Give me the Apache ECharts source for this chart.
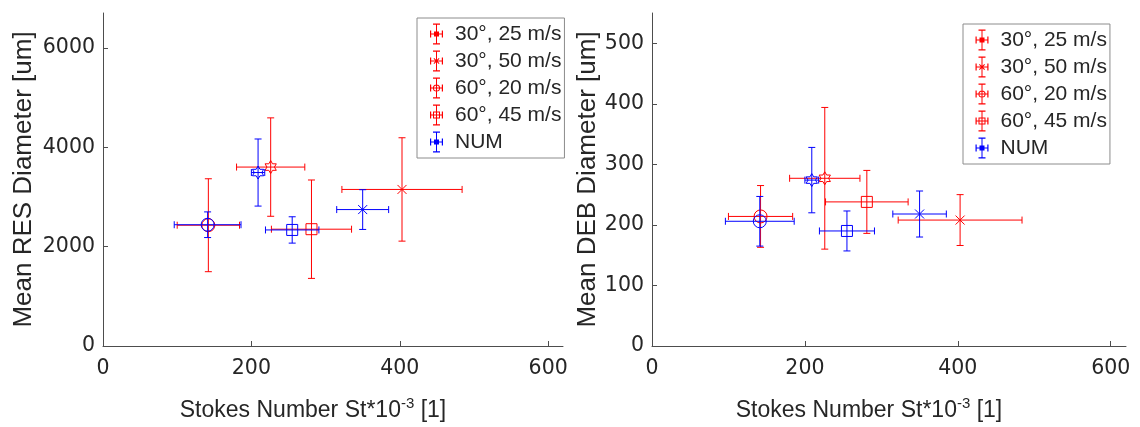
<!DOCTYPE html>
<html>
<head>
<meta charset="utf-8">
<script src="https://cdn.jsdelivr.net/npm/echarts@6/dist/echarts.min.js"></script>
<style>
  html, body { margin: 0; padding: 0; background: #ffffff; }
  #chart { width: 1140px; height: 427px; }
</style>
</head>
<body>
<div id="chart"></div>
<script>
// Experimental conditions (impact angle, speed) and the simulation series
const conditionNames = ['30°, 25 m/s', '30°, 50 m/s', '60°, 20 m/s', '60°, 45 m/s'];
const numName = 'NUM';
const conditionMarkers = ['hexagram', 'x', 'circle', 'square'];

// Stokes number St*10^-3 and its spread
const stokesExp = [226, 403, 142, 281];
const stokesExpErr = [46, 81, 42, 54];
const stokesNum = [209, 350, 141, 255];
const stokesNumErr = [9, 35, 45, 36];

// Mean RES diameter [um]
const resExp = [3600, 3150, 2430, 2350];
const resExpErr = [990, 1040, 935, 990];
const resNum = [3490, 2745, 2440, 2335];
const resNumErr = [675, 400, 258, 265];

// Mean DEB diameter [um]
const debExp = [277, 208, 214, 238];
const debExpErr = [117, 42, 51, 52];
const debNum = [274, 218, 206, 190];
const debNumErr = [54, 38, 41, 33];

// Tick marks
const xTicks = [0, 200, 400, 600];
const resTicks = [0, 2000, 4000, 6000];
const debTicks = [0, 100, 200, 300, 400, 500];

const RED = '#ff0000';
const BLUE = '#0000ff';
const TEXT = '#262626';
const AXIS = '#4d4d4d';
const FONT = '"Liberation Sans", Arial, Helvetica, sans-serif';
const TICK_FONT = '"DejaVu Sans", "Liberation Sans", sans-serif';

function markerShape(kind, cx, cy, color) {
  const st = () => ({ stroke: color, lineWidth: 1, fill: null });
  if (kind === 'circle') {
    return { type: 'circle', shape: { cx, cy, r: 6.5 }, style: st() };
  }
  if (kind === 'square') {
    return { type: 'rect', shape: { x: cx - 5.5, y: cy - 5.5, width: 11, height: 11 }, style: st() };
  }
  if (kind === 'x') {
    const d = 4.5;
    return {
      type: 'group',
      children: [
        { type: 'line', shape: { x1: cx - d, y1: cy - d, x2: cx + d, y2: cy + d }, style: st() },
        { type: 'line', shape: { x1: cx - d, y1: cy + d, x2: cx + d, y2: cy - d }, style: st() }
      ]
    };
  }
  // six-pointed star
  const pts = [];
  const ro = 6.5, ri = ro / Math.sqrt(3);
  for (let k = 0; k < 12; k++) {
    const a = -Math.PI / 2 + k * Math.PI / 6;
    const r = k % 2 === 0 ? ro : ri;
    pts.push([cx + r * Math.cos(a), cy + r * Math.sin(a)]);
  }
  return { type: 'polygon', shape: { points: pts }, style: st() };
}

function errorBarRenderer(color) {
  return function (params, api) {
    const x = api.value(0), ex = api.value(1), y = api.value(2), ey = api.value(3);
    const kind = conditionMarkers[api.value(4)];
    const c = api.coord([x, y]);
    const top = api.coord([x, y + ey]);
    const bot = api.coord([x, y - ey]);
    const lft = api.coord([x - ex, y]);
    const rgt = api.coord([x + ex, y]);
    const cap = 3.5;
    const line = (x1, y1, x2, y2) => ({
      type: 'line', shape: { x1, y1, x2, y2 }, style: { stroke: color, lineWidth: 1 }
    });
    return {
      type: 'group',
      children: [
        line(c[0], top[1], c[0], bot[1]),
        line(c[0] - cap, top[1], c[0] + cap, top[1]),
        line(c[0] - cap, bot[1], c[0] + cap, bot[1]),
        line(lft[0], c[1], rgt[0], c[1]),
        line(lft[0], c[1] - cap, lft[0], c[1] + cap),
        line(rgt[0], c[1] - cap, rgt[0], c[1] + cap),
        markerShape(kind, c[0], c[1], color)
      ]
    };
  };
}

// Legend glyphs: a small error-bar cross (13 x 21) with a marker in the middle
function rect(x, y, w, h) {
  return `M${x},${y}L${x + w},${y}L${x + w},${y + h}L${x},${y + h}Z`;
}
function rectCCW(x, y, w, h) {
  return `M${x},${y}L${x},${y + h}L${x + w},${y + h}L${x + w},${y}Z`;
}
function legendIcon(kind) {
  let p = '';
  p += rect(6, 0, 1, 21);
  p += rect(3, 0, 7, 1.2);
  p += rect(3, 19.8, 7, 1.2);
  p += rect(0, 10, 13, 1);
  p += rect(0, 7, 1.2, 7);
  p += rect(11.8, 7, 1.2, 7);
  const cx = 6.5, cy = 10.5;
  if (kind === 'circle') {
    const r = 3.6, ri = 2.6;
    p += `M${cx - r},${cy}A${r},${r} 0 1,1 ${cx + r},${cy}A${r},${r} 0 1,1 ${cx - r},${cy}Z`;
    p += `M${cx - ri},${cy}A${ri},${ri} 0 1,0 ${cx + ri},${cy}A${ri},${ri} 0 1,0 ${cx - ri},${cy}Z`;
  } else if (kind === 'square') {
    p += rect(cx - 3.5, cy - 3.5, 7, 7) + rectCCW(cx - 2.5, cy - 2.5, 5, 5);
  } else if (kind === 'x') {
    p += `M${cx - 3},${cy - 2.3}L${cx - 2.3},${cy - 3}L${cx + 3},${cy + 2.3}L${cx + 2.3},${cy + 3}Z`;
    p += `M${cx + 2.3},${cy - 3}L${cx + 3},${cy - 2.3}L${cx - 2.3},${cy + 3}L${cx - 3},${cy + 2.3}Z`;
  } else {
    p += rect(cx - 2.5, cy - 2.5, 5, 5);
  }
  return 'path://' + p;
}

const legendData = conditionNames.map((n, i) => ({ name: n, icon: legendIcon(conditionMarkers[i]) }))
  .concat([{ name: numName, icon: legendIcon('hexagram') }]);

function makeSeries(gridIdx, yExp, yExpErr, yNum, yNumErr) {
  const list = conditionNames.map((name, i) => ({
    type: 'custom',
    name,
    xAxisIndex: gridIdx,
    yAxisIndex: gridIdx,
    itemStyle: { color: RED },
    renderItem: errorBarRenderer(RED),
    encode: { x: 0, y: 2 },
    data: [[stokesExp[i], stokesExpErr[i], yExp[i], yExpErr[i], i]],
    silent: true
  }));
  list.push({
    type: 'custom',
    name: numName,
    xAxisIndex: gridIdx,
    yAxisIndex: gridIdx,
    itemStyle: { color: BLUE },
    renderItem: errorBarRenderer(BLUE),
    encode: { x: 0, y: 2 },
    data: stokesNum.map((s, i) => [s, stokesNumErr[i], yNum[i], yNumErr[i], i]),
    silent: true
  });
  return list;
}

const tickText = { fontSize: 20.5, color: TEXT, fontFamily: TICK_FONT, formatter: v => String(v) };

function xAxisCfg(gridIdx) {
  return {
    type: 'value', gridIndex: gridIdx, min: 0, max: 620,
    axisLine: { show: true, onZero: false, lineStyle: { color: AXIS, width: 1 } },
    axisTick: { show: true, inside: true, length: 5, customValues: xTicks, lineStyle: { color: AXIS } },
    axisLabel: Object.assign({ customValues: xTicks, margin: 12 }, tickText),
    splitLine: { show: false },
    name: '{a|Stokes Number St*10}{s|-3}{a| [1]}',
    nameLocation: 'middle',
    nameGap: 50,
    nameTextStyle: {
      padding: [0, 40, 0, 0],
      rich: {
        a: { fontSize: 23, color: TEXT, fontFamily: FONT, lineHeight: 26, verticalAlign: 'bottom' },
        s: { fontSize: 15, color: TEXT, fontFamily: FONT, lineHeight: 26, verticalAlign: 'top' }
      }
    }
  };
}

function yAxisCfg(gridIdx, max, ticks, name, gap) {
  return {
    type: 'value', gridIndex: gridIdx, min: 0, max,
    axisLine: { show: true, onZero: false, lineStyle: { color: AXIS, width: 1 } },
    axisTick: { show: true, inside: true, length: 5, customValues: ticks, lineStyle: { color: AXIS } },
    axisLabel: Object.assign({ customValues: ticks, margin: 8 }, tickText),
    splitLine: { show: false },
    name,
    nameLocation: 'middle',
    nameGap: gap,
    nameTextStyle: { fontSize: 26, color: TEXT, fontFamily: FONT }
  };
}

function legendCfg(left, top, padLeft) {
  return {
    data: legendData,
    orient: 'vertical',
    left, top,
    itemWidth: 13,
    itemHeight: 21,
    itemGap: 6,
    padding: [5.5, 3, 5.5, padLeft],
    backgroundColor: '#ffffff',
    borderColor: '#8c8c8c',
    borderWidth: 1,
    selectedMode: false,
    textStyle: { fontSize: 21, color: TEXT, fontFamily: FONT, padding: [0, 0, 0, 7] }
  };
}

const chart = echarts.init(document.getElementById('chart'), null, { renderer: 'canvas' });
chart.setOption({
  animation: false,
  backgroundColor: '#ffffff',
  grid: [
    { left: 103, top: 13, width: 460, height: 339 },
    { left: 652, top: 13, width: 474, height: 339 }
  ],
  xAxis: [xAxisCfg(0), xAxisCfg(1)],
  yAxis: [
    yAxisCfg(0, 6700, resTicks, 'Mean RES Diameter [um]', 66),
    yAxisCfg(1, 550, debTicks, 'Mean DEB Diameter [um]', 51)
  ],
  legend: [legendCfg(417, 18, 13), legendCfg(963, 24, 12.5)],
  series: makeSeries(0, resExp, resExpErr, resNum, resNumErr)
    .concat(makeSeries(1, debExp, debExpErr, debNum, debNumErr))
});
</script>
</body>
</html>
